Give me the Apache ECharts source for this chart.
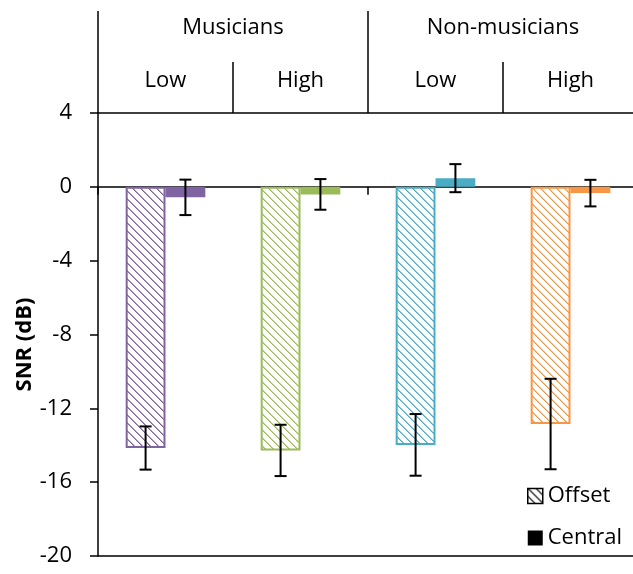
<!DOCTYPE html>
<html>
<head>
<meta charset="utf-8">
<script src="https://cdn.jsdelivr.net/npm/echarts@6/dist/echarts.min.js"></script>
<style>html,body{margin:0;padding:0;background:#fff}#c{width:633px;height:574px}</style>
</head>
<body>
<div id="c"></div>
<script>
var groups = ['Musicians', 'Non-musicians'];
var levels = ['Low', 'High', 'Low', 'High'];
var categories = ['Musicians Low', 'Musicians High', 'Non-musicians Low', 'Non-musicians High'];
var colors = ['#8064A2', '#9BBB59', '#4BACC6', '#F79646'];
var offsetValues = [-14.15, -14.28, -13.98, -12.85];
var offsetErrors = [1.17, 1.39, 1.67, 2.45];
var centralValues = [-0.57, -0.41, 0.47, -0.34];
var centralErrors = [0.96, 0.83, 0.76, 0.72];
var yTicks = [-20, -16, -12, -8, -4, 0, 4];

var FONT = 'Open Sans';
var GAP = 0.41;

function hatch(color) {
  var c = document.createElement('canvas');
  c.width = 8; c.height = 8;
  var ctx = c.getContext('2d');
  ctx.fillStyle = '#fff';
  ctx.fillRect(0, 0, 8, 8);
  ctx.fillStyle = color;
  for (var i = 0; i < 8; i++) {
    ctx.globalAlpha = 1;
    ctx.fillRect(i, i, 1, 1);
    ctx.globalAlpha = 0.6;
    ctx.fillRect((i + 1) % 8, i, 1, 1);
  }
  return { image: c, repeat: 'repeat' };
}

var offsetData = offsetValues.map(function (v, i) {
  return { value: v, itemStyle: { color: hatch(colors[i]), borderColor: colors[i], borderWidth: 2 } };
});
var centralData = centralValues.map(function (v, i) {
  return { value: v, itemStyle: { color: colors[i] } };
});
var errData = [];
offsetValues.forEach(function (v, i) { errData.push([i, v, offsetErrors[i], -1]); });
centralValues.forEach(function (v, i) { errData.push([i, v, centralErrors[i], 1]); });

var chart = echarts.init(document.getElementById('c'));
var lineStyle = { color: '#000', width: 1.5 };
chart.setOption({
  animation: false,
  grid: { left: 98, top: 113, width: 540, height: 443, containLabel: false, outerBoundsMode: 'none' },
  legend: {
    orient: 'vertical', left: 522, top: 480, itemWidth: 15, itemHeight: 15, itemGap: 20,
    icon: 'rect',
    textStyle: { fontFamily: FONT, fontSize: 22, color: '#000' },
    data: [
      { name: 'Offset', itemStyle: { color: hatch('#000'), borderColor: '#000', borderWidth: 1.5 } },
      { name: 'Central', itemStyle: { color: '#000' } }
    ]
  },
  xAxis: [
    {
      type: 'category', data: categories, position: 'bottom',
      axisLine: { onZero: true, lineStyle: lineStyle },
      axisTick: { show: true, length: 8, lineStyle: lineStyle },
      axisLabel: { show: false }, splitLine: { show: false }
    },
    {
      type: 'category', data: levels, position: 'top',
      axisLine: { show: true, lineStyle: lineStyle },
      axisTick: { show: true, length: 51, lineStyle: lineStyle },
      axisLabel: { show: true, margin: 32, verticalAlign: 'middle', fontFamily: FONT, fontSize: 22, color: '#000' },
      splitLine: { show: false }
    },
    {
      type: 'category', data: groups, position: 'top', offset: 51,
      axisLine: { show: false },
      axisTick: { show: true, length: 51, lineStyle: lineStyle },
      axisLabel: { show: true, margin: 34, verticalAlign: 'middle', fontFamily: FONT, fontSize: 22, color: '#000' },
      splitLine: { show: false }
    },
    {
      type: 'category', data: categories, position: 'bottom',
      axisLine: { show: true, onZero: false, lineStyle: lineStyle },
      axisTick: { show: false }, axisLabel: { show: false }, splitLine: { show: false }
    }
  ],
  yAxis: {
    type: 'value', min: yTicks[0], max: yTicks[yTicks.length - 1], interval: 4,
    name: 'SNR (dB)', nameLocation: 'middle', nameGap: 62, nameRotate: 90, nameMoveOverlap: false,
    nameTextStyle: { fontFamily: FONT, fontSize: 22, fontWeight: 'bold', color: '#000', padding: [0, 20, 0, 0] },
    axisLine: { show: true, lineStyle: lineStyle },
    axisTick: { show: true, length: 8, lineStyle: lineStyle },
    axisLabel: { margin: 26, fontFamily: FONT, fontSize: 22, color: '#000' },
    splitLine: { show: false }
  },
  series: [
    { name: 'Offset', type: 'bar', data: offsetData, barGap: '0%', barCategoryGap: (GAP * 100) + '%', xAxisIndex: 0 },
    { name: 'Central', type: 'bar', data: centralData, barGap: '0%', barCategoryGap: (GAP * 100) + '%', xAxisIndex: 0 },
    {
      name: 'err', type: 'custom', xAxisIndex: 0, yAxisIndex: 0, z: 10, data: errData,
      renderItem: function (params, api) {
        var idx = api.value(0), val = api.value(1), err = api.value(2), side = api.value(3);
        var band = api.size([1, 0])[0];
        var c = api.coord([idx, val]);
        var x = c[0] + side * band * (1 - GAP) / 4;
        var top = api.coord([idx, val + err])[1];
        var bot = api.coord([idx, val - err])[1];
        var st = { stroke: '#000', lineWidth: 2 };
        var hw = 6;
        return {
          type: 'group',
          children: [
            { type: 'line', shape: { x1: x, y1: top, x2: x, y2: bot }, style: st },
            { type: 'line', shape: { x1: x - hw, y1: top, x2: x + hw, y2: top }, style: st },
            { type: 'line', shape: { x1: x - hw, y1: bot, x2: x + hw, y2: bot }, style: st }
          ]
        };
      }
    }
  ]
});
</script>
</body>
</html>
